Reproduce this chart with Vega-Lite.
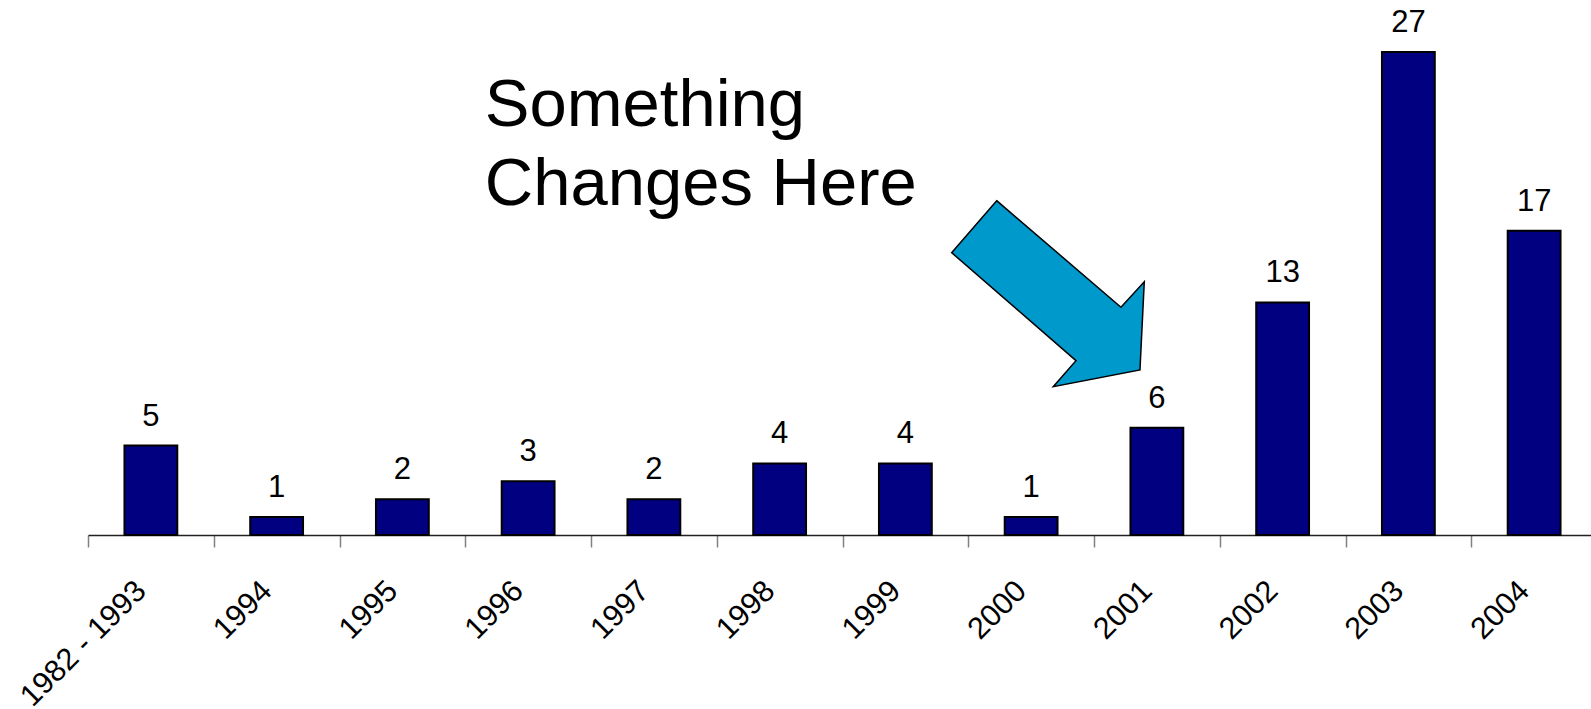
{
  "$schema": "https://vega.github.io/schema/vega-lite/v6.json",
  "width": 1503,
  "height": 501,
  "autosize": {"type": "none"},
  "padding": {"left": 88, "top": 34, "right": 0, "bottom": 174},
  "background": "white",
  "config": {"view": {"stroke": null}, "font": "Liberation Sans"},
  "datasets": {
    "bars": [
      {"period": "1982 - 1993", "count": 5},
      {"period": "1994", "count": 1},
      {"period": "1995", "count": 2},
      {"period": "1996", "count": 3},
      {"period": "1997", "count": 2},
      {"period": "1998", "count": 4},
      {"period": "1999", "count": 4},
      {"period": "2000", "count": 1},
      {"period": "2001", "count": 6},
      {"period": "2002", "count": 13},
      {"period": "2003", "count": 27},
      {"period": "2004", "count": 17}
    ],
    "note": [{"period": "1996", "count": 22.85, "label": "Something\nChanges Here"}],
    "arrow": [{"period": "2000", "count": 13.47}]
  },
  "encoding": {
    "x": {
      "field": "period",
      "type": "nominal",
      "sort": null,
      "scale": {
        "type": "band",
        "domain": ["1982 - 1993", "1994", "1995", "1996", "1997", "1998", "1999", "2000", "2001", "2002", "2003", "2004"],
        "range": [0, 1509],
        "paddingInner": 0,
        "paddingOuter": 0
      },
      "axis": {
        "title": null,
        "tickBand": "extent",
        "domainColor": "#222222",
        "domainWidth": 1.5,
        "tickColor": "#808080",
        "tickWidth": 1.5,
        "tickSize": 12,
        "labelAngle": -45,
        "labelAlign": "right",
        "labelBaseline": "middle",
        "labelFontSize": 30.5,
        "labelFont": "Liberation Sans",
        "labelColor": "black",
        "labelPadding": 39,
        "labelOffset": -10,
        "labelOverlap": false,
        "labelBound": false,
        "labelFlush": false
      }
    },
    "y": {
      "field": "count",
      "type": "quantitative",
      "scale": {"domain": [0, 28], "nice": false},
      "axis": null
    }
  },
  "layer": [
    {
      "data": {"name": "bars"},
      "mark": {"type": "bar", "width": {"band": 0.42}, "fill": "#000080", "stroke": "black", "strokeWidth": 2}
    },
    {
      "data": {"name": "bars"},
      "mark": {"type": "text", "baseline": "alphabetic", "dy": -20, "fontSize": 31, "font": "Liberation Sans", "color": "black"},
      "encoding": {"text": {"field": "count", "type": "quantitative"}}
    },
    {
      "data": {"name": "note"},
      "mark": {"type": "text", "align": "left", "baseline": "alphabetic", "fontSize": 67, "lineHeight": 79, "lineBreak": "\n", "font": "Liberation Sans", "color": "black"},
      "encoding": {
        "x": {"field": "period", "type": "nominal", "bandPosition": 0.155},
        "text": {"field": "label", "type": "nominal"}
      }
    },
    {
      "data": {"name": "arrow"},
      "mark": {
        "type": "point",
        "filled": true,
        "opacity": 1,
        "fill": "#0099CC",
        "stroke": "black",
        "strokeWidth": 1.5,
        "size": 40000,
        "shape": "M-0.513,-0.933L0.73,0.133L0.963,-0.123L0.92,0.76L0.053,0.927L0.28,0.667L-0.963,-0.413Z"
      },
      "encoding": {
        "x": {"field": "period", "type": "nominal", "bandPosition": 0.634}
      }
    }
  ]
}
